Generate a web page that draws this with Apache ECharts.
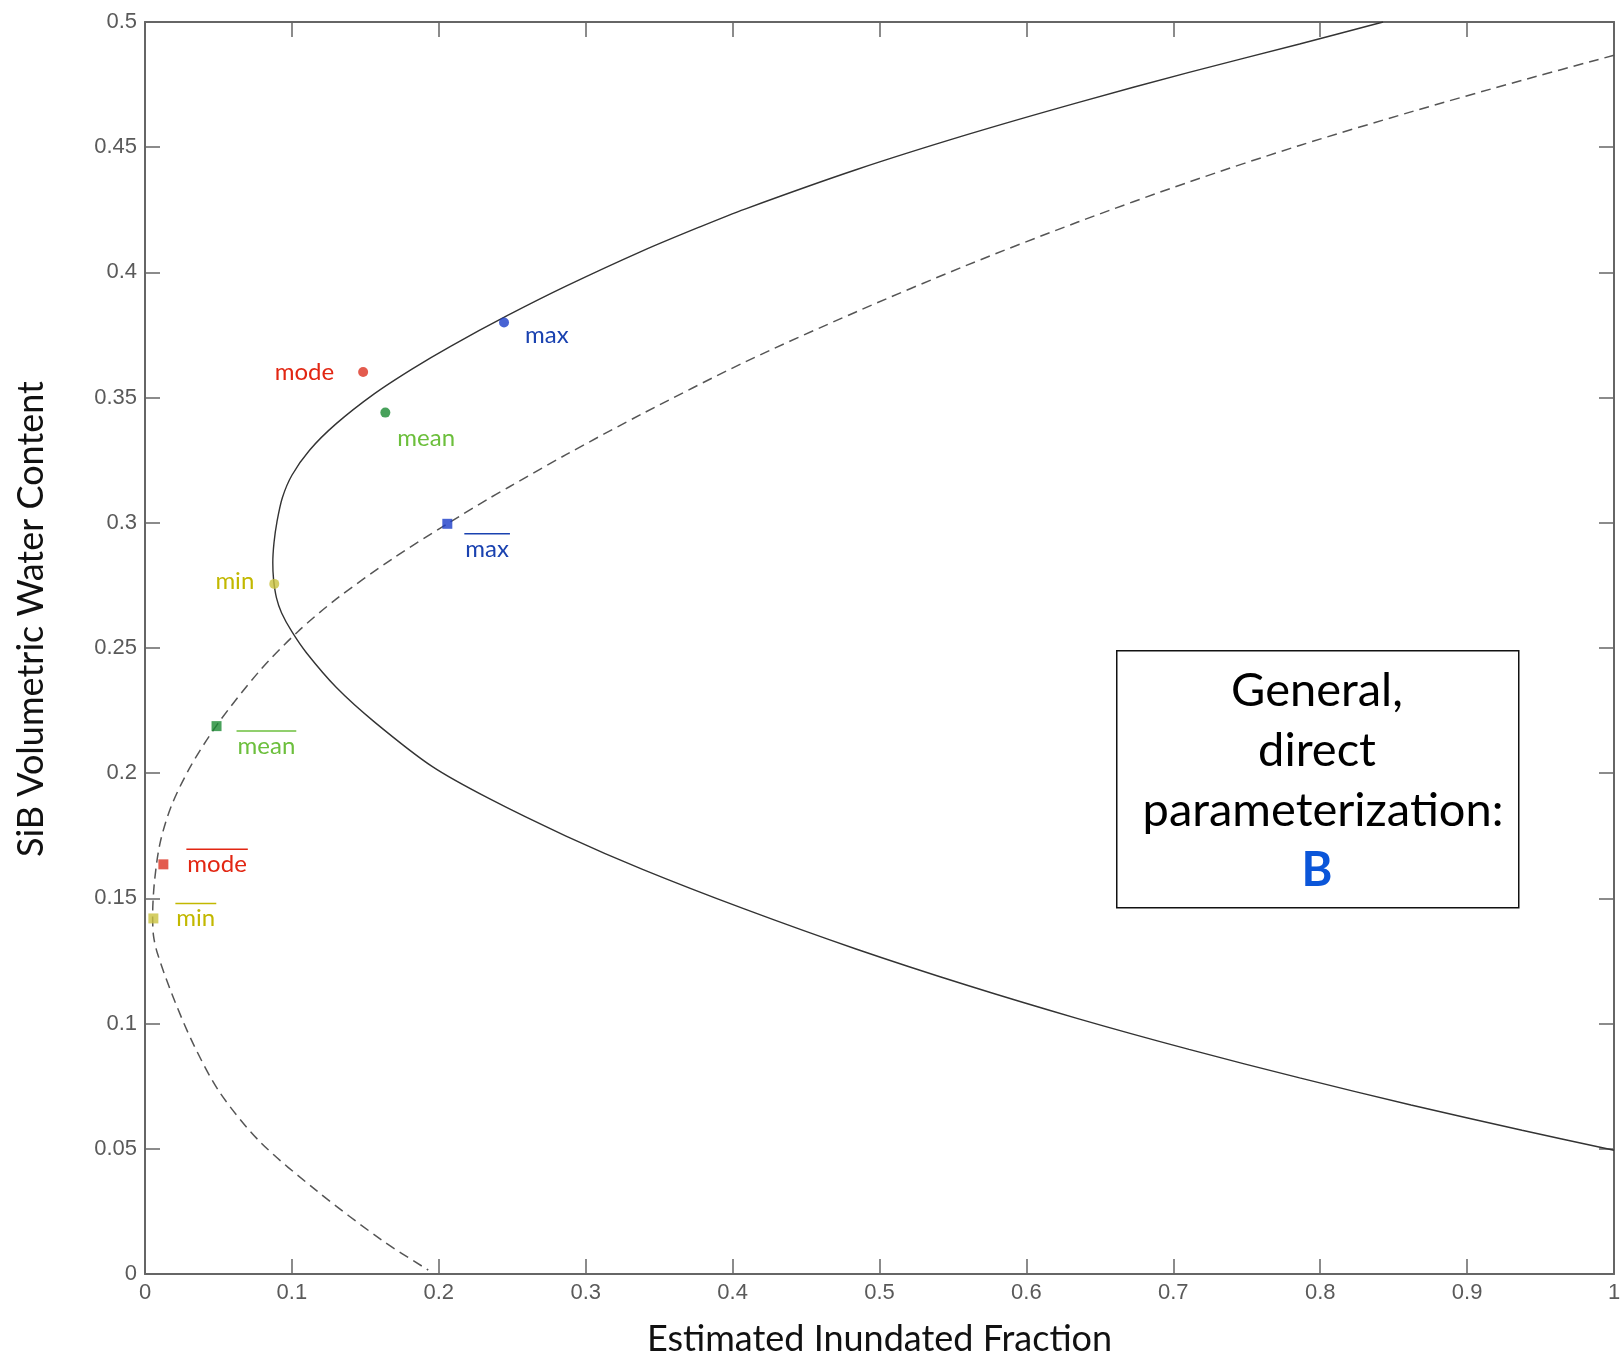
<!DOCTYPE html>
<html><head><meta charset="utf-8">
<script src="https://cdn.jsdelivr.net/npm/echarts@6/dist/echarts.min.js"></script>
<style>html,body{margin:0;padding:0;background:#fff}#chart{width:1622px;height:1361px}</style>
</head><body><div id="chart"></div>
<script>
// ---- data ----
const xTickLabels = ['0','0.1','0.2','0.3','0.4','0.5','0.6','0.7','0.8','0.9','1'];
const yTickLabels = ['0','0.05','0.1','0.15','0.2','0.25','0.3','0.35','0.4','0.45','0.5'];

// solid curve (x, y) from upper-right, round the vertex, to lower-right
const solidX = [0.8428,0.786,0.7107,0.635,0.5596,0.484,0.4084,0.3778,0.3387,0.2866,0.2475,0.208,0.182,0.156,0.13,0.112,0.1,0.0935,0.0898,0.0878,0.087,0.0875,0.0895,0.093,0.1,0.11,0.1303,0.1563,0.1954,0.2344,0.2866,0.3387,0.4084,0.484,0.5596,0.635,0.7107,0.786,0.8618,0.9374,1.0];
const solidY = [0.5,0.4912,0.4799,0.4678,0.4550,0.4410,0.4253,0.4182,0.4086,0.3945,0.383,0.3705,0.3615,0.3515,0.3395,0.329,0.319,0.310,0.3003,0.292,0.284,0.2775,0.270,0.264,0.2565,0.248,0.2342,0.2204,0.2027,0.1898,0.1749,0.1616,0.1457,0.1298,0.1153,0.1020,0.0897,0.0783,0.0675,0.0574,0.0494];

// dashed curve (x, y) from right edge down to the x axis
const dashedX = [1.0,0.9374,0.8618,0.786,0.7107,0.635,0.5596,0.484,0.4084,0.3387,0.2866,0.2475,0.2344,0.2058,0.1694,0.1303,0.1042,0.0781,0.0495,0.0312,0.0182,0.0104,0.0065,0.0052,0.0058,0.0085,0.0182,0.0326,0.0508,0.0781,0.1172,0.1615,0.1928];
const dashedY = [0.4867,0.4767,0.4641,0.4507,0.4361,0.4201,0.4029,0.3842,0.3642,0.3436,0.3272,0.3142,0.3098,0.2996,0.2860,0.2696,0.2566,0.2409,0.2197,0.2029,0.1873,0.1725,0.157,0.1430,0.135,0.128,0.112,0.0922,0.0726,0.0529,0.0331,0.0134,0.0016];

// statistics shown as dots (solid curve) and squares (dashed curve)
const statNames = ['max','mode','mean','min'];
const dotX = [0.2444,0.1485,0.1636,0.0880];
const dotY = [0.3800,0.3602,0.3440,0.2756];
const sqX  = [0.2058,0.0125,0.0487,0.0057];
const sqY  = [0.2996,0.1636,0.2188,0.1420];

const xTitle = 'Estimated Inundated Fraction';
const yTitle = 'SiB Volumetric Water Content';
const boxLines = ['General,', 'direct', ' parameterization:'];
const boxLetter = 'B';

// ---- styling ----
const markerColor = ['#1a3cc8','#dc3222','#1a8a32','#c9c23e'];
const labelColor  = ['#1a42b0','#e22612','#6cbf3c','#c2b800'];
// pixel offsets of the labels from their markers
const dotLabelOff = [[21,13,'left'],[-29,0,'right'],[12,26,'left'],[-20,-3,'right']];
const sqLabelOff  = [[18,25,'left'],[24,0,'left'],[21,20,'left'],[23,0,'left']];
const labelFont = '24px Lato';

const pairs = (xs, ys) => xs.map((x, i) => [x, ys[i]]);
const measure = (() => { const c = document.createElement('canvas').getContext('2d'); return (t, f) => { c.font = f; return c.measureText(t).width; }; })();

function labelRenderer(offsets, overline) {
  return function (params, api) {
    const i = params.dataIndex;
    const p = api.coord([api.value(0), api.value(1)]);
    const o = offsets[i];
    const x = p[0] + o[0], y = p[1] + o[1];
    const txt = statNames[i];
    const children = [{
      type: 'text', x: x, y: y,
      style: { text: txt, fill: labelColor[i], font: labelFont, align: o[2], verticalAlign: 'middle' }
    }];
    if (overline) {
      const w = measure(txt, labelFont);
      const x1 = o[2] === 'left' ? x : x - w;
      children.push({ type: 'line', shape: { x1: x1 - 1, y1: y - 15, x2: x1 + w + 1, y2: y - 15 },
        style: { stroke: labelColor[i], lineWidth: 1.5 } });
    }
    return { type: 'group', children: children };
  };
}

const chart = echarts.init(document.getElementById('chart'), null, { renderer: 'canvas' });
const axisCommon = {
  type: 'value',
  axisLine: { show: true, onZero: false, lineStyle: { color: '#666', width: 2 } },
  axisTick: { show: true, inside: true, length: 15, lineStyle: { color: '#666', width: 1.5 } },
  splitLine: { show: false },
};
const tickFont = { color: '#5a5a5a', fontFamily: 'Liberation Sans', fontSize: 22, margin: 8 };

chart.setOption({
  animation: false,
  backgroundColor: '#fff',
  grid: { left: 145, top: 22, right: 8, bottom: 87, containLabel: false, outerBoundsMode: 'none' },
  xAxis: [
    Object.assign({}, axisCommon, {
      min: 0, max: 1, interval: 0.1, position: 'bottom',
      axisLabel: Object.assign({}, tickFont, { formatter: v => xTickLabels[Math.round(v * 10)] }),
      name: xTitle, nameLocation: 'middle', nameGap: 47,
      nameTextStyle: { fontFamily: 'Lato', fontSize: 36, color: '#111' }
    }),
    Object.assign({}, axisCommon, { min: 0, max: 1, interval: 0.1, position: 'top', axisLabel: { show: false } })
  ],
  yAxis: [
    Object.assign({}, axisCommon, {
      min: 0, max: 0.5, interval: 0.05, position: 'left',
      axisLabel: Object.assign({}, tickFont, { formatter: v => yTickLabels[Math.round(v * 20)] })
    }),
    Object.assign({}, axisCommon, { min: 0, max: 0.5, interval: 0.05, position: 'right', axisLabel: { show: false } })
  ],
  series: [
    { type: 'line', data: pairs(solidX, solidY), symbol: 'none', smooth: 0.3,
      lineStyle: { color: '#333', width: 1.4 }, z: 2 },
    { type: 'line', data: pairs(dashedX, dashedY), symbol: 'none', smooth: 0.3,
      lineStyle: { color: '#555', width: 1.5, type: [10, 6] }, z: 2 },
    { type: 'scatter', data: pairs(dotX, dotY), symbol: 'circle', symbolSize: 10,
      itemStyle: { color: p => markerColor[p.dataIndex] }, z: 4 },
    { type: 'scatter', data: pairs(sqX, sqY), symbol: 'rect', symbolSize: 10,
      itemStyle: { color: p => markerColor[p.dataIndex] }, z: 4 },
    { type: 'custom', data: pairs(dotX, dotY), renderItem: labelRenderer(dotLabelOff, false), z: 5, silent: true },
    { type: 'custom', data: pairs(sqX, sqY), renderItem: labelRenderer(sqLabelOff, true), z: 5, silent: true }
  ],
  graphic: [
    { type: 'text', x: 31, y: 619, rotation: Math.PI / 2, z: 10,
      style: { text: yTitle, font: '36px Lato', fill: '#111', align: 'center', verticalAlign: 'middle' } },
    { type: 'rect', left: 1116, top: 650, shape: { width: 402, height: 257 },
      style: { fill: '#fff', stroke: '#111', lineWidth: 1.5 }, z: 10 },
    { type: 'text', x: 1317, y: 661, z: 11,
      style: {
        text: boxLines.join('\n') + '\n{b|' + boxLetter + '}',
        font: '47px Lato', fill: '#000', align: 'center', verticalAlign: 'top', lineHeight: 60,
        rich: { b: { font: 'bold 47px Lato', fill: '#0b56d9', lineHeight: 60 } }
      } }
  ]
});
</script>
</body></html>
